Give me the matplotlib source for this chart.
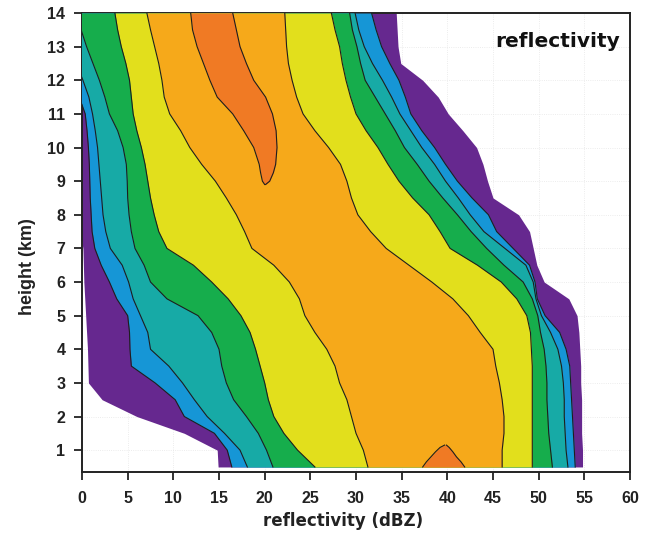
import numpy as np
import matplotlib
matplotlib.use("Agg")
import matplotlib.pyplot as plt
from matplotlib.font_manager import FontProperties

# height levels (km) at which the contour edges were traced
height = [0.5, 1.0, 1.5, 2.0, 2.5, 3.0, 3.5, 4.0, 4.5, 5.0, 5.5, 6.0, 6.5, 7.0,
          7.5, 8.0, 8.5, 9.0, 9.5, 10.0, 10.5, 11.0, 11.5, 12.0, 12.5, 13.0, 13.5, 14.0]

# left edges of each frequency band (dBZ), outermost first
left_purple = [14.9, 14.8, 11.2, 6.0, 2.2, 0.7, 0.65, 0.6, 0.5, 0.4, 0.3, 0.2, 0.15, 0.1,
               -0.2, -0.2, -0.2, -0.2, -0.2, -0.2, -0.3, -0.5, -1.5, -2.5, -3.0, -3.5, -4.0, -4.5]
left_blue = [16.4, 15.9, 14.5, 11.2, 10.2, 8.0, 5.4, 5.25, 5.2, 5.0, 3.8, 3.0, 2.1, 1.4,
             1.1, 1.0, 0.9, 0.85, 0.8, 0.7, 0.55, 0.35, -0.3, -1.0, -1.6, -2.2, -2.8, -3.4]
left_teal = [18.1, 17.3, 15.6, 13.7, 12.3, 11.0, 9.5, 7.5, 7.2, 6.4, 5.6, 5.1, 4.4, 3.1,
             2.6, 2.3, 2.15, 2.0, 1.85, 1.7, 1.45, 1.15, 0.75, 0.1, -0.6, -1.2, -1.8, -2.4]
left_green = [20.9, 20.2, 19.3, 18.0, 16.6, 15.8, 15.3, 15.0, 14.2, 12.7, 9.3, 7.5, 6.8, 5.8,
              5.4, 5.15, 5.0, 4.95, 4.85, 4.5, 3.9, 3.0, 2.5, 1.9, 1.2, 0.5, -0.1, -0.6]
left_yellow = [25.5, 23.6, 22.1, 21.0, 20.4, 20.0, 19.5, 19.0, 18.4, 17.4, 16.0, 14.2, 12.2, 9.3,
               8.4, 7.9, 7.5, 7.2, 6.9, 6.5, 6.0, 5.6, 5.4, 5.2, 4.8, 4.3, 3.9, 3.6]
left_orange = [31.3, 30.8, 30.0, 29.5, 29.0, 28.2, 27.7, 26.8, 25.5, 24.4, 23.8, 22.7, 21.0, 18.6,
               17.8, 16.9, 15.8, 14.6, 13.1, 11.8, 10.8, 9.6, 9.0, 8.75, 8.4, 7.95, 7.5, 7.1]

# right edges of each band (dBZ)
right_orange = [46.0, 46.0, 46.2, 46.2, 46.0, 45.7, 45.3, 45.0, 43.6, 42.3, 40.6, 38.3, 35.8, 33.3,
                31.6, 30.2, 29.5, 29.0, 28.3, 27.0, 25.5, 24.2, 23.5, 23.0, 22.6, 22.4, 22.3, 22.2]
right_yellow = [49.3, 49.3, 49.3, 49.3, 49.3, 49.3, 49.3, 49.2, 49.1, 48.7, 47.6, 45.9, 43.3, 40.3,
                39.2, 38.0, 36.2, 34.7, 33.5, 32.4, 31.1, 30.0, 29.4, 28.9, 28.5, 28.2, 27.7, 27.3]
right_green = [51.5, 51.3, 51.1, 51.0, 50.9, 50.9, 50.8, 50.6, 50.2, 49.9, 49.3, 48.3, 46.2, 44.3,
               42.6, 41.1, 39.5, 38.0, 36.7, 35.3, 34.3, 33.2, 32.1, 31.0, 30.5, 30.1, 29.6, 29.3]
right_teal = [53.2, 53.0, 52.9, 52.8, 52.8, 52.7, 52.5, 52.1, 51.3, 50.3, 49.7, 49.4, 48.6, 46.3,
              44.0, 42.5, 41.2, 39.8, 38.6, 37.2, 36.0, 34.8, 33.9, 32.9, 31.8, 30.9, 30.3, 29.9]
right_blue = [54.0, 53.9, 53.8, 53.7, 53.6, 53.5, 53.4, 53.0, 52.3, 50.7, 49.85, 49.6, 49.0, 47.2,
              45.4, 44.5, 42.7, 41.1, 39.8, 38.6, 37.2, 36.0, 35.4, 34.7, 33.7, 32.8, 32.2, 31.7]
right_purple = [54.8, 54.8, 54.7, 54.7, 54.7, 54.6, 54.6, 54.5, 54.4, 54.2, 53.3, 50.6, 49.8, 49.4,
                49.0, 47.8, 45.0, 44.4, 43.9, 43.2, 41.7, 40.1, 39.0, 37.3, 34.9, 34.6, 34.5, 34.4]

# highest-frequency cores
core_top_height = [8.9, 9.0, 9.25, 9.5, 10.0, 10.5, 11.0, 11.5, 12.0, 12.5, 13.0, 13.5, 14.0]
core_top_left = [20.0, 19.75, 19.55, 19.4, 18.8, 17.7, 16.5, 14.8, 14.0, 13.3, 12.6, 12.1, 11.9]
core_top_right = [20.1, 20.55, 20.95, 21.2, 21.35, 21.25, 20.85, 20.1, 18.8, 18.0, 17.3, 16.9, 16.5]

core_low_height = [0.5, 0.65, 0.8, 0.95, 1.08, 1.15]
core_low_left = [37.3, 37.7, 38.2, 38.7, 39.2, 39.7]
core_low_right = [41.9, 41.5, 41.0, 40.6, 40.2, 39.9]

bands = [
    (left_purple, right_purple, "#66288f"),
    (left_blue, right_blue, "#1696d6"),
    (left_teal, right_teal, "#17aaa6"),
    (left_green, right_green, "#16ad4c"),
    (left_yellow, right_yellow, "#e2df1c"),
    (left_orange, right_orange, "#f6a91a"),
]
core_color = "#f07a24"
edge = "#1e1e1e"

fig = plt.figure(figsize=(6.53, 5.36), dpi=100)
ax = fig.add_axes([0.1256, 0.1194, 0.8392, 0.8563])

h = np.array(height)
for i, (lo, hi, col) in enumerate(bands):
    ax.fill_betweenx(h, lo, hi, color=col, lw=0, zorder=2 + i)
    if i > 0:
        ax.plot(lo, h, color=edge, lw=0.8, zorder=10)
        ax.plot(hi, h, color=edge, lw=0.8, zorder=10)

for hh, lo, hi in [(core_top_height, core_top_left, core_top_right),
                   (core_low_height, core_low_left, core_low_right)]:
    ax.fill_betweenx(hh, lo, hi, color=core_color, lw=0, zorder=9)
    ax.plot(lo, hh, color=edge, lw=0.8, zorder=10)
    ax.plot(hi, hh, color=edge, lw=0.8, zorder=10)

ax.set_xlim(0, 60)
ax.set_ylim(0.35, 14)
ax.set_xticks(np.arange(0, 61, 5))
ax.set_yticks(np.arange(1, 15, 1))
ax.grid(True, color="#e6e6e6", ls=":", lw=0.6, zorder=0)

tick_font = FontProperties(family="Liberation Sans", weight="bold", size=11.5)
for lab in ax.get_xticklabels() + ax.get_yticklabels():
    lab.set_fontproperties(tick_font)
    lab.set_color("#222222")
ax.tick_params(axis="both", direction="out", length=6, width=1.3, color="#222222",
               top=False, right=False)
ax.tick_params(axis="x", pad=8)
ax.tick_params(axis="y", pad=6)
for sp in ax.spines.values():
    sp.set_linewidth(1.4)
    sp.set_color("#222222")

ax.set_xlabel("reflectivity (dBZ)", fontsize=12, fontweight="bold", color="#222222",
              va="center", ha="center")
ax.xaxis.set_label_coords(0.476, -0.107)
ax.set_ylabel("height (km)", family="Liberation Sans", fontsize=13, fontweight="bold",
              color="#222222", va="center", ha="center")
ax.yaxis.set_label_coords(-0.100, 0.447)

ax.text(0.982, 0.958, "reflectivity", transform=ax.transAxes, ha="right", va="top",
        fontsize=14.5, fontweight="bold", color="#111111", zorder=12)

fig.savefig("out.png", dpi=100)
